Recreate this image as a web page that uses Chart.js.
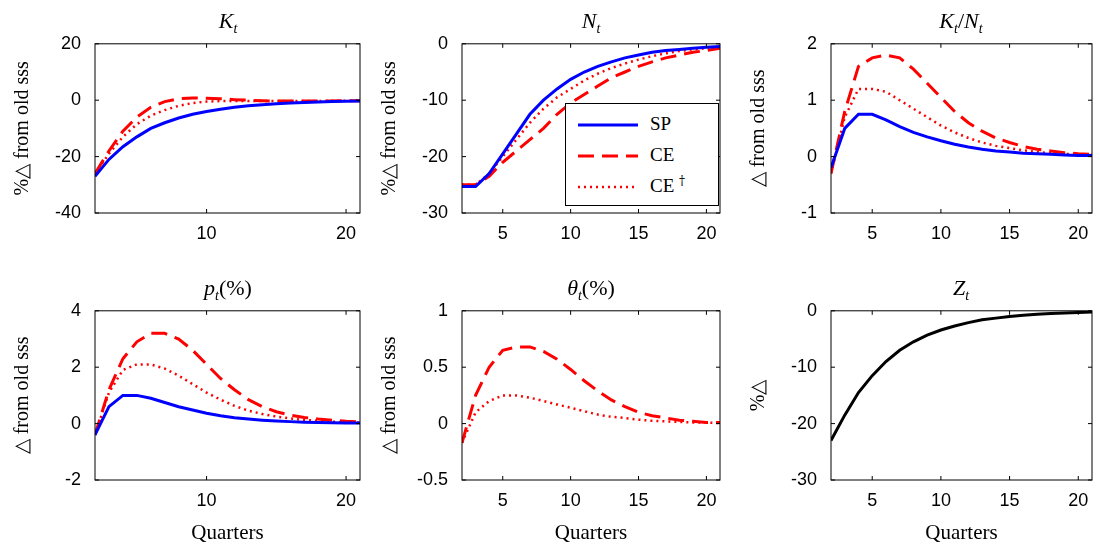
<!DOCTYPE html>
<html><head><meta charset="utf-8">
<script src="https://cdn.jsdelivr.net/npm/chart.js@4"></script>
<style>
body{margin:0;width:1100px;height:551px;background:#fff;position:relative;overflow:hidden}
.c{position:absolute}
.t{position:absolute;font-family:"Liberation Serif",serif;font-size:22px;text-align:center;color:#000}
.t i{font-style:italic}
.t sub{font-size:14px;font-style:italic}
#leg{position:absolute;left:565px;top:103px;width:152px;height:101px;border:1px solid #000;background:#fff;font-family:"Liberation Serif",serif;font-size:19px;color:#000}
#leg svg{position:absolute;left:10px;top:0}
#leg span{position:absolute;left:84px}
</style></head><body>
<script>
const X=[2,3,4,5,6,7,8,9,10,11,12,13,14,15,16,17,18,19,20,21];
const K_SP=[-27,-21,-16.5,-13,-10,-8,-6.3,-5,-4,-3.2,-2.5,-2,-1.6,-1.3,-1,-0.8,-0.6,-0.5,-0.4,-0.3];
const K_CE=[-26,-18,-11,-6,-2.5,-0.5,0.5,0.8,0.7,0.5,0.2,0,-0.2,-0.3,-0.3,-0.3,-0.3,-0.3,-0.2,-0.2];
const K_CEd=[-26,-19,-13,-8.5,-5.5,-3.5,-2,-1,-0.5,-0.3,-0.3,-0.3,-0.3,-0.3,-0.3,-0.3,-0.3,-0.2,-0.2,-0.2];
const N_SP=[-25.3,-25.3,-23,-19.5,-16,-12.5,-10,-8,-6.3,-5,-4,-3.2,-2.5,-2,-1.5,-1.2,-1,-0.8,-0.6,-0.5];
const N_CE=[-25,-25,-23.5,-21,-19,-17,-15,-12.5,-10.5,-9,-7.5,-6,-5,-4,-3.2,-2.5,-2,-1.5,-1.2,-0.8];
const N_CEd=[-25,-25,-23,-20,-17,-14,-11.5,-9.5,-8,-6.5,-5.3,-4.3,-3.5,-2.8,-2.2,-1.7,-1.3,-1,-0.8,-0.6];
const KN_SP=[-0.2,0.5,0.75,0.75,0.65,0.53,0.43,0.35,0.28,0.22,0.17,0.13,0.1,0.08,0.06,0.05,0.04,0.03,0.02,0.02];
const KN_CE=[-0.3,0.8,1.6,1.75,1.8,1.75,1.55,1.3,1.05,0.8,0.6,0.45,0.33,0.25,0.18,0.13,0.1,0.07,0.05,0.04];
const KN_CEd=[-0.3,0.7,1.2,1.2,1.15,1.0,0.85,0.7,0.55,0.43,0.33,0.25,0.19,0.15,0.11,0.08,0.06,0.05,0.04,0.03];
const P_SP=[-0.4,0.6,1.0,1.0,0.9,0.75,0.6,0.48,0.37,0.28,0.21,0.16,0.12,0.09,0.07,0.05,0.04,0.03,0.02,0.02];
const P_CE=[-0.4,1.2,2.3,2.9,3.2,3.2,3.0,2.6,2.1,1.6,1.2,0.85,0.6,0.42,0.3,0.22,0.16,0.12,0.08,0.06];
const P_CEd=[-0.4,1.1,1.9,2.1,2.1,1.95,1.7,1.4,1.1,0.85,0.63,0.46,0.34,0.25,0.18,0.13,0.1,0.07,0.05,0.04];
const TH_CE=[-0.17,0.25,0.5,0.65,0.68,0.68,0.64,0.57,0.48,0.38,0.29,0.21,0.15,0.1,0.07,0.05,0.03,0.02,0.01,0.01];
const TH_CEd=[-0.17,0.1,0.2,0.25,0.25,0.23,0.2,0.17,0.14,0.11,0.08,0.06,0.05,0.035,0.025,0.02,0.015,0.01,0.01,0.005];
const Z=[-23,-18.5,-14.5,-11.5,-9,-7,-5.5,-4.3,-3.4,-2.7,-2.1,-1.6,-1.3,-1.0,-0.8,-0.6,-0.5,-0.4,-0.3,-0.2];

const pts=a=>a.map((v,i)=>({x:X[i],y:v}));
const SP=a=>({data:pts(a),borderColor:'#0000ff',borderWidth:3,pointRadius:0,order:1});
const CE=a=>({data:pts(a),borderColor:'#ff0000',borderWidth:3,borderDash:[16,8],pointRadius:0,order:2});
const CEd=a=>({data:pts(a),borderColor:'#ff0000',borderWidth:2.5,borderDash:[2,4],pointRadius:0,order:3});
const BL=a=>({data:pts(a),borderColor:'#000',borderWidth:3,pointRadius:0});

const boxPlugin={id:'box',afterDraw(c){const a=c.chartArea,x=c.ctx;x.save();x.strokeStyle='#000';x.lineWidth=1;
 x.strokeRect(a.left,a.top,a.right-a.left,a.bottom-a.top);
 c.scales.x.ticks.forEach(t=>{const p=c.scales.x.getPixelForValue(t.value);x.beginPath();x.moveTo(p,a.bottom);x.lineTo(p,a.bottom-4);x.moveTo(p,a.top);x.lineTo(p,a.top+4);x.stroke();});
 c.scales.y.ticks.forEach(t=>{const p=c.scales.y.getPixelForValue(t.value);x.beginPath();x.moveTo(a.left,p);x.lineTo(a.left+4,p);x.moveTo(a.right,p);x.lineTo(a.right-4,p);x.stroke();});
 x.restore();}};

const YW=84;
function mk(left,top,pw,ph,ds,ymin,ymax,ystep,xt,ylab,xlab,padR){
 const d=document.createElement('div');d.className='c';
 const XH=xlab?66:40;
 const w=YW+pw+padR,h=16+ph+XH;
 d.style.cssText=`left:${left-YW}px;top:${top-16}px;width:${w}px;height:${h}px`;
 const cv=document.createElement('canvas');d.appendChild(cv);document.body.appendChild(d);
 new Chart(cv,{type:'line',data:{datasets:ds},plugins:[boxPlugin],options:{animation:false,responsive:true,maintainAspectRatio:false,
  layout:{padding:{top:4,right:padR,left:0,bottom:0}},
  plugins:{legend:{display:false},tooltip:{enabled:false}},
  scales:{x:{type:'linear',min:2,max:21,afterBuildTicks:s=>{s.ticks=xt.map(v=>({value:v}))},afterFit:s=>{s.height=XH},
    grid:{display:false},border:{display:false},ticks:{color:'#000',font:{family:'Liberation Sans',size:18},padding:2},
    title:{display:!!xlab,text:xlab,color:'#000',font:{family:'Liberation Serif',size:21},padding:{top:12,bottom:0}}},
   y:{min:ymin,max:ymax,afterBuildTicks:s=>{const t=[];for(let v=ymin;v<=ymax+1e-9;v+=ystep)t.push({value:+v.toFixed(4)});s.ticks=t},afterFit:s=>{s.width=YW},
    grid:{display:false},border:{display:false},ticks:{color:'#000',font:{family:'Liberation Sans',size:18},padding:6,callback:v=>String(+v.toFixed(4))},
    title:{display:true,text:ylab,color:'#000',font:{family:'Liberation Serif',size:20},padding:{top:0,bottom:2}}}}}});
}
function title(html,cx,y){const t=document.createElement('div');t.className='t';t.innerHTML=html;t.style.cssText=`left:${cx-100}px;top:${y}px;width:200px`;document.body.appendChild(t);}

mk(95,43,265,170,[SP(K_SP),CE(K_CE),CEd(K_CEd)],-40,20,20,[10,20],'%△ from old sss','',10);
mk(462,43,258,170,[SP(N_SP),CE(N_CE),CEd(N_CEd)],-30,0,10,[5,10,15,20],'%△ from old sss','',10);
mk(831,43,261,170,[SP(KN_SP),CE(KN_CE),CEd(KN_CEd)],-1,2,1,[5,10,15,20],'△ from old sss','',8);
mk(95,310,265,170,[SP(P_SP),CE(P_CE),CEd(P_CEd)],-2,4,2,[10,20],'△ from old sss','Quarters',10);
mk(462,310,258,170,[CE(TH_CE),CEd(TH_CEd)],-0.5,1,0.5,[5,10,15,20],'△ from old sss','Quarters',10);
mk(831,310,261,170,[BL(Z)],-30,0,10,[5,10,15,20],'%△','Quarters',8);

title('<i>K</i><sub>t</sub>',228,8);
title('<i>N</i><sub>t</sub>',591,8);
title('<i>K</i><sub>t</sub>/<i>N</i><sub>t</sub>',961,8);
title('<i>p</i><sub>t</sub>(%)',228,275);
title('<i>θ</i><sub>t</sub>(%)',591,275);
title('<i>Z</i><sub>t</sub>',961,275);
</script>
<div id="leg">
<svg width="64" height="101"><line x1="2" y1="21" x2="62" y2="21" stroke="#0000ff" stroke-width="3"/>
<line x1="2" y1="52" x2="62" y2="52" stroke="#ff0000" stroke-width="3" stroke-dasharray="16 8"/>
<line x1="2" y1="83" x2="62" y2="83" stroke="#ff0000" stroke-width="2.5" stroke-dasharray="2 4"/></svg>
<span style="top:9px">SP</span>
<span style="top:40px">CE</span>
<span style="top:71px">CE <span style="position:relative;left:0;top:-7px;font-size:12px;color:#000;font-family:'DejaVu Serif'">&#8224;</span></span>
</div>
</body></html>
